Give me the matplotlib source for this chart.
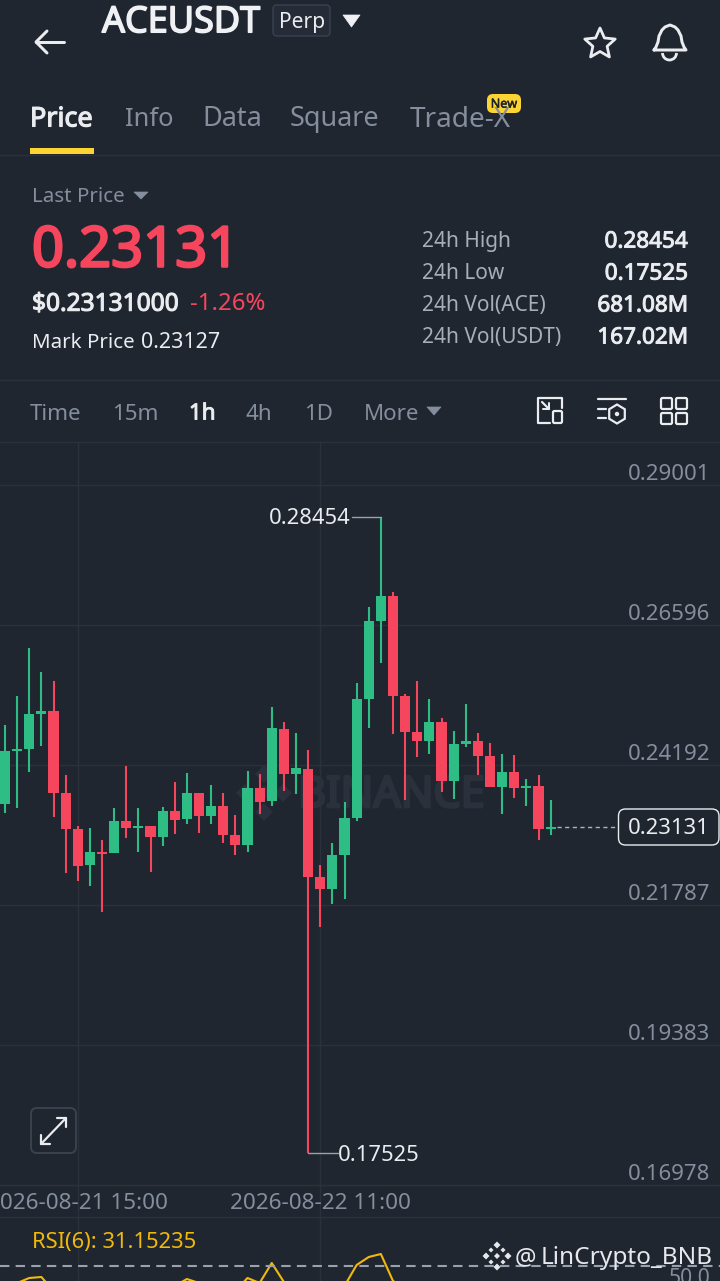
import matplotlib
matplotlib.use("Agg")
import matplotlib.pyplot as plt
import matplotlib.patheffects as pe
from matplotlib.patches import FancyBboxPatch, Polygon, Rectangle, Circle, Arc
import numpy as np

plt.rcParams['font.family'] = ['Noto Sans', 'DejaVu Sans']

# ---- data ----
opens = [.23527,.24437,.24466,.25061,.25118,.23715,.23086,.22467,.22696,.22685,.23223,.23109,.23143,.22954,.23395,.23257,
         .23704,.23315,.23492,.22988,.22822,.23801,.23567,.24815,.24030,.24128,.22261,.22066,.22651,.23275,.25325,.26664,
         .27094,.25376,.24763,.24597,.24935,.23916,.24552,.24603,.24340,.23819,.24076,.23801,.23830,.23091]
highs = [.24872,.25376,.26195,.25783,.25628,.24019,.23149,.23109,.22897,.23446,.24174,.23446,.23143,.23464,.23893,.24053,
         .23704,.23841,.23715,.23326,.24082,.24036,.25181,.24929,.24746,.24443,.22473,.22845,.23555,.25599,.26905,.28454,
         .27168,.25410,.25628,.25319,.24992,.24769,.25233,.24746,.24563,.24374,.24357,.23945,.24019,.23590]
lows = [.23372,.23452,.24076,.24523,.23303,.22341,.22204,.22112,.21671,.22685,.22942,.22696,.22353,.22805,.23005,.23183,
        .23028,.23177,.22851,.22650,.22702,.23355,.23492,.23744,.23687,.17525,.21414,.21803,.21883,.23235,.24821,.25937,
        .24718,.23590,.24334,.24380,.23733,.23601,.24506,.24013,.23807,.23355,.23630,.23486,.22902,.22994]
closes = [.24431,.24466,.25061,.25118,.23715,.23086,.22461,.22696,.22668,.23223,.23109,.23143,.22954,.23395,.23252,.23704,
          .23315,.23492,.22988,.22822,.23801,.23561,.24821,.24030,.24133,.22261,.22066,.22651,.23275,.25319,.26659,.27094,
          .25376,.24763,.24597,.24929,.23916,.24557,.24603,.24345,.23819,.24076,.23801,.23830,.23091,.23131]
rsi = [30,33,38,39,25,20,18,20,20,28,26,27,25,31,30,37,33,34,27,25,38,33,53,34,31,15,14,20,30,51,59,62,35,28,27,29,
       26,28,29,27,25,27,26,27,24,31.15]
price_ticks = [.29001,.26596,.24192,.21787,.19383,.16978]
price_labels = ['0.29001','0.26596','0.24192','0.21787','0.19383','0.16978']
time_ticks = [6,26]
time_labels = ['2026-08-21 15:00','2026-08-22 11:00']
last_price = 0.23131
high_price = 0.28454
low_price = 0.17525

BG='#1F2630'; GRID='#2B313B'; GREEN='#2EBD85'; RED='#F6465D'; GRAY='#848E9C'; WHITE='#EAECEF'; YEL='#FCD535'
W,H=720,1281
fig=plt.figure(figsize=(7.2,12.81),dpi=100,facecolor=BG)

def axpx(top,bottom,z):
    return fig.add_axes([0,1-bottom/H,1,(bottom-top)/H],zorder=z)

K=(0.29001-0.16978)/700
xlim=(-5/12.125,(720-5)/12.125)
ax=axpx(442,1217,1)
ax.set_facecolor(BG)
ax.set_xlim(xlim); ax.set_ylim(0.16978-32*K,0.29001+43*K)
for s in ax.spines.values(): s.set_visible(False)
ax.yaxis.tick_right()
ax.set_yticks(price_ticks,price_labels)
ax.set_xticks(time_ticks,time_labels)
ax.tick_params(axis='y',length=0,pad=-7,labelsize=16,labelcolor=GRAY)
for l in ax.get_yticklabels():
    l.set_ha('right'); l.set_va('bottom')
ax.tick_params(axis='x',direction='in',length=0,pad=-17.5,labelsize=16.2,labelcolor=GRAY)
ax.grid(True,color=GRID,lw=1.0)
ax.set_axisbelow(True)

xs=np.arange(len(opens))
for i in xs:
    o,h,l,c=opens[i],highs[i],lows[i],closes[i]
    col=GREEN if c>=o else RED
    ax.vlines(i,l,h,color=col,lw=1.5,zorder=3)
    top,bot=max(o,c),min(o,c)
    ax.bar(i,top-bot,bottom=bot,width=0.84,color=col,lw=0,zorder=4)

# RSI panel
rx=axpx(1218,1281,1)
rx.set_facecolor(BG)
rx.set_xlim(xlim); rx.set_ylim(35,98)
for s in rx.spines.values(): s.set_visible(False)
rx.set_xticks(time_ticks,['','']); rx.set_yticks([])
rx.tick_params(length=0)
rx.grid(True,axis='x',color=GRID,lw=1.0)
rx.plot(xs,rsi,color='#F0B90B',lw=1.5,zorder=3)
rx.axhline(50,color='#9AA1AC',lw=1.5,ls=(0,(4.5,3)),zorder=4)

# UI overlay in pixel coordinates
ui=fig.add_axes([0,0,1,1],zorder=5)
ui.set_xlim(0,W); ui.set_ylim(H,0); ui.axis('off'); ui.patch.set_alpha(0)

def T(x,y,s,px,c=WHITE,w='normal',ha='left',va='center',**kw):
    t=ui.text(x,y+px*0.09,s,fontsize=px*0.72,color=c,ha=ha,va=va,**kw)
    if w=='bold':
        t.set_path_effects([pe.withStroke(linewidth=px*0.032,foreground=c)])
    return t
def L(xx,yy,c=WHITE,lw=2.0,**kw):
    ui.plot(xx,yy,color=c,lw=lw*0.72,solid_capstyle='round',solid_joinstyle='round',**kw)
def tri(x0,x1,y0,y1,c):
    ui.add_patch(Polygon([(x0,y0),(x1,y0),((x0+x1)/2,y1)],closed=True,fc=c,ec=c,lw=0.5,joinstyle='round'))
def rbox(x,y,w,h,r,fc='none',ec='none',lw=1.0):
    ui.add_patch(FancyBboxPatch((x+r,y+r),w-2*r,h-2*r,boxstyle=f'round,pad={r},rounding_size={r}',fc=fc,ec=ec,lw=lw))

# top bar
L([36,64],[42,42],lw=3); L([47,36,47],[31,42,53],lw=3)
T(102,20,'ACEUSDT',36,'#F0F1F4','bold')
rbox(273,5,57,31,4,fc='#252C37',ec='#3A4250',lw=1)
T(302,21,'Perp',21,WHITE,ha='center')
tri(343,360,15,27,'#F0F1F4')
a=np.linspace(-np.pi/2,1.5*np.pi,11)[:-1]
r=np.where(np.arange(10)%2==0,16,7.5)
ui.add_patch(Polygon(np.c_[600+r*np.cos(a),44+r*np.sin(a)],closed=True,fc='none',ec=WHITE,lw=2,joinstyle='round'))
bx=[654,656,658,659,662,665,670,675,678,681,682,684,686,654]
by=[50,47,42,36,30,27,25,27,30,36,42,47,50,50]
L(bx,by,lw=3)
ui.add_patch(Arc((669.5,53),14,14,theta1=0,theta2=180,ec=WHITE,lw=2))

# tabs
for x,s,c,sz,wt in [(30,'Price',WHITE,27,'bold'),(125,'Info',GRAY,25.5,'normal'),(202,'Data',GRAY,27,'normal'),(290,'Square',GRAY,27,'normal'),(410,'Trade-X',GRAY,28,'normal')]:
    T(x,117,s,sz,c,wt)
ui.add_patch(Rectangle((30,148),64,6,fc=YEL,lw=0))
rbox(487,94,34,19,6,fc=YEL)
T(504,103,'New',12.5,'#1E2329','bold',ha='center')
ui.plot([0,720],[155,155],color=GRID,lw=1)

# quote
T(32,195,'Last Price',20.5,GRAY); tri(134,148,192,199,GRAY)
T(32,247,'0.23131',56,RED,'bold')
T(32,302,'$0.23131000',24.5,WHITE,'bold')
T(190,302,'-1.26%',24,RED)
T(32,341,'Mark Price',20.5,WHITE); T(141,341,'0.23127',21.5,WHITE)
rows=[('24h High','0.28454'),('24h Low','0.17525'),('24h Vol(ACE)','681.08M'),('24h Vol(USDT)','167.02M')]
for i,(k,v) in enumerate(rows):
    T(422,240+32*i,k,20.9,'#A6AEBA')
    T(688,240+32*i,v,22.5,WHITE,'bold',ha='right')
ui.plot([0,720],[380,380],color=GRID,lw=1)

# interval row
for x,s,c,w in [(30,'Time',GRAY,'normal'),(112,'15m',GRAY,'normal'),(189,'1h',WHITE,'bold'),(246,'4h',GRAY,'normal'),(304,'1D',GRAY,'normal'),(364,'More',GRAY,'normal')]:
    T(x,412,s,22.3,c,w)
tri(427,441,407,415,GRAY)
ui.plot([0,720],[442,442],color=GRID,lw=1)
# icons
L([550,538,538,562,562],[423,423,398,398,408],lw=2.2); rbox(553,411,9,12,1.5,ec=WHITE,lw=1.6)
L([542,549],[402,409],lw=2.2); L([549,549,543],[403,409,409],lw=2)
L([598,626],[399,399],lw=2.2); L([598,606],[409,409],lw=2.2); L([598,606],[418,418],lw=2.2)
h=np.linspace(-np.pi/2,1.5*np.pi,7)[:-1]
ui.add_patch(Polygon(np.c_[617+9*np.cos(h),414+9.5*np.sin(h)],closed=True,fc='none',ec=WHITE,lw=1.6))
ui.add_patch(Circle((617,414),2.2,fc=WHITE,lw=0))
for bxx,byy in [(661,398),(676,398),(661,413),(676,413)]:
    rbox(bxx,byy,11,11,1.5,ec=WHITE,lw=1.6)

# chart watermark (behind the candles)
WM='#2A313C'
wm=ax.text(298/W,(1217-796)/775,'BINANCE',transform=ax.transAxes,fontsize=31,color=WM,va='center',zorder=1)
wm.set_path_effects([pe.withStroke(linewidth=2,foreground=WM)])
for cx,cy,s in [(264,774,9),(264,812,9),(245,793,9),(283,793,9),(264,793,8)]:
    ax.add_patch(Polygon([((cx-s)/W,(1217-cy)/775),(cx/W,(1217-cy+s)/775),((cx+s)/W,(1217-cy)/775),(cx/W,(1217-cy-s)/775)],
                         closed=True,fc=WM,lw=0,transform=ax.transAxes,zorder=1))

# high / low annotations
def py(p): return 485+(0.29001-p)/K
def px(i): return 5+12.125*i
yh=py(high_price); yl=py(low_price)
L([352,px(31)],[yh,yh],c='#9AA1AC',lw=1.4)
T(351,yh,'0.28454',22,WHITE,ha='right')
L([px(25),338],[yl,yl],c='#9AA1AC',lw=1.4)
T(338,yl,'0.17525',22,WHITE)
yc=py(last_price)
ui.plot([px(45)+6,618],[yc,yc],color='#AEB4BC',lw=1,ls=(0,(3,2.5)))
rbox(618.5,809,100.5,36,7,fc=BG,ec=WHITE,lw=1)
T(669,827,'0.23131',22,WHITE,ha='center')

# expand button
rbox(31,1108,45,45,6,fc=BG,ec='#3A4250',lw=1.4)
L([41,66],[1144,1118],lw=2.2)
L([41,41,50],[1135,1144,1144],lw=2.2); L([57,66,66],[1118,1118,1127],lw=2.2)

ui.plot([0,720],[1185,1185],color=GRID,lw=1)
ui.plot([0,720],[1217,1217],color=GRID,lw=1)

T(32,1241,'RSI(6): 31.15235',21.9,'#F0B90B')
T(710,1277,'50.0',21,GRAY,ha='right')
T(515,1256,'@',24,'#E6E8EC'); T(541,1256,'LinCrypto_BNB',24.4,'#E6E8EC')
for cx,cy,s in [(497,1245,3.5),(497,1267,3.5),(486,1256,3.5),(508,1256,3.5),(491,1250,2.5),(503,1250,2.5),(491,1262,2.5),(503,1262,2.5),(497,1256,3)]:
    ui.add_patch(Polygon([(cx-s,cy),(cx,cy-s),(cx+s,cy),(cx,cy+s)],closed=True,fc='#E6E8EC',lw=0))

fig.savefig('out.png',dpi=100,facecolor=BG)
